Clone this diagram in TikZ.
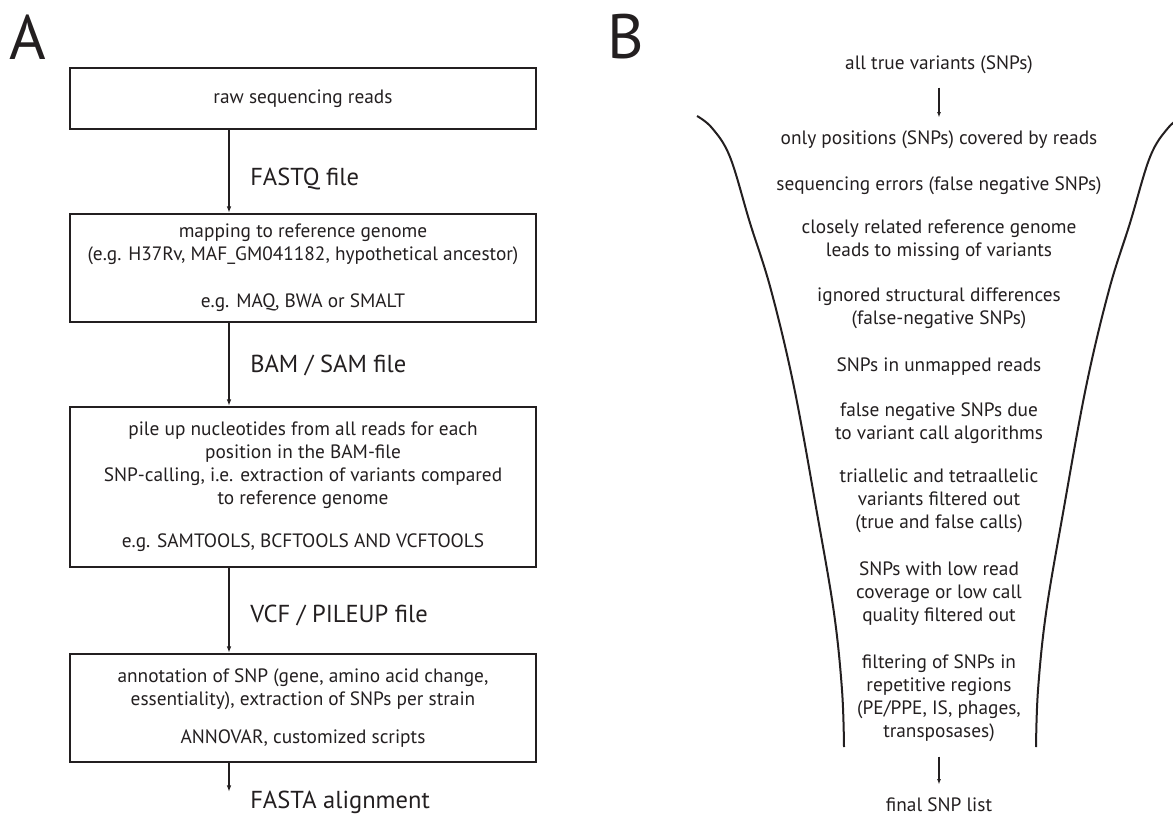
\documentclass[tikz,border=0pt]{standalone}
\usepackage{fontspec}
\setmainfont{PT Sans}
\usetikzlibrary{arrows.meta}
\definecolor{ink}{HTML}{231F20}
\newcommand\boxfont{\fontsize{14.5}{17.3}\selectfont}
\newcommand\lblfont{\fontsize{18.4}{23}\selectfont}
\newcommand\bigfont{\fontsize{47}{50}\selectfont}
\tikzset{
  box/.style={draw=ink, line width=1.5pt, minimum width=466*0.75pt, inner sep=0pt,
              align=center, font=\boxfont, text=ink},
  flow/.style={draw=ink, line width=1.1pt, -{Latex[length=5pt,width=3.5pt]}},
  lbl/.style={anchor=base west, font=\lblfont, inner sep=0pt, text=ink},
  ftext/.style={align=center, font=\boxfont, inner sep=0pt, text=ink},
  thinarrow/.style={draw=ink, line width=0.8pt, -{Latex[length=4pt,width=3pt]}},
  funnel/.style={draw=ink, line width=1.5pt},
  panel/.style={font=\bigfont, inner sep=0pt, text=ink},
}
\begin{document}
\begin{tikzpicture}[x=0.75pt,y=-0.75pt]
\useasboundingbox (0,0) rectangle (1173,816);
% panel letters
\node[panel] (A) at (28,37) {A};
\node[panel] (B) at (626,37) {B};
% panel A boxes
\node[box, minimum height=61*0.75pt] (b1) at (303,98.5) {raw sequencing reads};
\node[box, minimum height=108*0.75pt] (b2) at (303,268) {mapping to reference genome\\(e.g. H37Rv, MAF\_GM041182, hypothetical ancestor)\\[18pt]e.g. MAQ, BWA or SMALT};
\node[box, minimum height=160*0.75pt] (b3) at (303,487) {pile up nucleotides from all reads for each\\position in the BAM-file\\SNP-calling, i.e. extraction of variants compared\\to reference genome\\[15pt]e.g. SAMTOOLS, BCFTOOLS AND VCFTOOLS};
\node[box, minimum height=108*0.75pt] (b4) at (303,708) {annotation of SNP (gene, amino acid change,\\essentiality), extraction of SNPs per strain\\[11pt]ANNOVAR, customized scripts};
\coordinate (ax) at (229,0);
\coordinate (fend) at (229,792);
\draw[flow] (b1.south -| ax) -- (b2.north -| ax);
\draw[flow] (b2.south -| ax) -- (b3.north -| ax);
\draw[flow] (b3.south -| ax) -- (b4.north -| ax);
\draw[flow] (b4.south -| ax) -- (fend);
\node[lbl] (l1) at (250,186) {FASTQ file};
\node[lbl] (l2) at (250,372) {BAM / SAM file};
\node[lbl] (l3) at (250,622) {VCF / PILEUP file};
\node[lbl] (l4) at (250,808) {FASTA alignment};
% panel B funnel
\draw[funnel] plot[smooth, tension=0.6] coordinates {(697,116) (712,128) (730,157) (750,223) (771,290) (794,387) (817,513) (834,613) (842,690) (844,747)};
\draw[funnel] plot[smooth, tension=0.6] coordinates {(1183,116) (1168,128) (1150,157) (1130,223) (1109,290) (1086,387) (1063,513) (1046,613) (1038,690) (1036,747)};
% panel B texts
\node[ftext] (g1) at (939,65) {all true variants (SNPs)};
\node[ftext] (g2) at (939,140) {only positions (SNPs) covered by reads};
\node[ftext] (g3) at (939,186) {sequencing errors (false negative SNPs)};
\node[ftext] (g4) at (939,240.5) {closely related reference genome\\leads to missing of variants};
\node[ftext] (g5) at (939,308.5) {ignored structural differences\\(false-negative SNPs)};
\node[ftext] (g6) at (939,367) {SNPs in unmapped reads};
\node[ftext] (g7) at (939,423.5) {false negative SNPs due\\to variant call algorithms};
\node[ftext] (g8) at (939,500.5) {triallelic and tetraallelic\\variants filtered out\\(true and false calls)};
\node[ftext] (g9) at (939,593.5) {SNPs with low read\\coverage or low call\\quality filtered out};
\node[ftext] (g10) at (939,698) {filtering of SNPs in\\repetitive regions\\(PE/PPE, IS, phages,\\transposases)};
\node[ftext] (g11) at (939,805) {final SNP list};
\draw[thinarrow, shorten <=10pt, shorten >=10pt] (g1.south) -- (g2.north);
\draw[thinarrow, shorten <=11pt, shorten >=10pt] (g10.south) -- (g11.north);
\end{tikzpicture}
\end{document}
